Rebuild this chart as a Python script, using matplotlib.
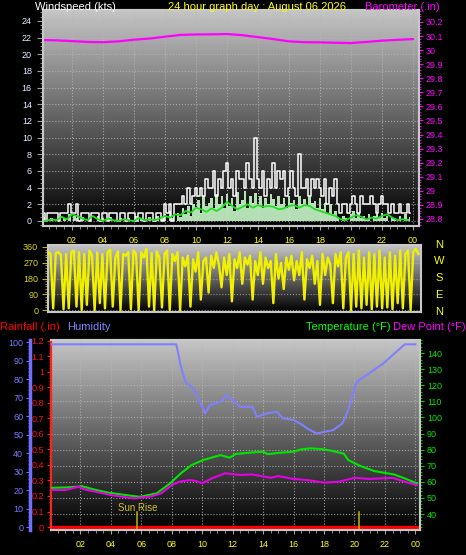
import matplotlib.pyplot as plt
from matplotlib.colors import LinearSegmentedColormap
from matplotlib.ticker import MultipleLocator, FixedLocator, NullFormatter
import numpy as np

plt.rcParams['font.family'] = ['Liberation Sans', 'DejaVu Sans']

# ---------------- data ----------------
# wind gust (kts), one value per 10 minutes
gust = [1, 1, 0, 1, 1, 1,   1, 0, 1, 1, 1, 2,   1, 1, 2, 0, 1, 1,   1, 0, 1, 1, 1, 0,
        1, 1, 0, 1, 1, 1,   0, 1, 1, 0, 1, 1,   1, 0, 1, 1, 0, 1,   1, 1, 0, 1, 1, 0,
        2, 1, 2, 0, 2, 2,   2, 3, 2, 4, 2, 3,   4, 3, 4, 3, 5, 4,   4, 6, 3, 5, 4, 6,
        7, 4, 5, 3, 6, 5,   5, 4, 7, 5, 4, 10,  5, 4, 6, 3, 5, 4,   7, 4, 6, 5, 6, 3,
        4, 6, 4, 3, 8, 4,   4, 5, 3, 5, 4, 5,   4, 3, 5, 2, 4, 3,   5, 2, 1, 2, 2, 1,
        2, 3, 2, 1, 3, 2,   2, 2, 3, 2, 1, 2,   3, 2, 2, 1, 2, 1,   1, 2, 1, 1, 2, 1]
# wind speed (kts), one value per 10 minutes
speed = [0, 0.5, 0, 0, 0.3, 0,   0, 0.5, 0, 0.4, 0, 0.8,   0, 0.6, 0.3, 0, 0.5, 0,
         0, 0.4, 0, 0, 0.6, 0,   0.3, 0, 0, 0.5, 0, 0,   0, 0.4, 0, 0, 0.3, 0,
         0, 0.6, 0, 0.3, 0, 0,   0.5, 0, 0, 0.6, 0, 0.4,   0.8, 0, 1.2, 0.4, 0, 1.0,
         0.5, 1.5, 0.8, 1.8, 0.6, 2.0,   1.5, 2.5, 1.0, 3.0, 1.8, 2.2,
         2.8, 1.5, 3.2, 2.0, 3.0, 1.6,   3.2, 1.8, 2.8, 1.2, 3.5, 2.0,
         2.5, 3.6, 1.5, 3.0, 2.2, 3.4,   2.0, 3.0, 1.5, 2.8, 2.0, 3.2,
         2.6, 1.8, 3.0, 2.0, 2.8, 1.6,   3.0, 2.2, 2.5, 1.4, 3.0, 2.0,
         2.6, 1.8, 3.0, 2.2, 2.4, 1.6,   2.8, 1.4, 2.2, 1.0, 2.0, 0.8,
         1.2, 0.4, 0, 0.6, 0.3, 0,   0.8, 1.2, 0.4, 1.0, 0.3, 0.6,
         0.2, 0.8, 0, 0.6, 1.0, 0.4,   1.0, 0.3, 0.6, 0, 0.4, 0.2,   0, 0.6, 0, 0.8, 0.2, 0.5]
# average wind (kts), one value per 20 minutes
wind_avg = [0, 0, 0.2, 0.1, 0.5, 0.2, 0.8, 0.6, 0.3, 0.1, 0.6, 0.2,
            0, 0.3, 0.1, 0, 0.2, 0.1, 0, 0.4, 0.1, 0.2, 0.1, 0.3,
            0.6, 0.4, 0.8, 0.7, 1.2, 1.0, 1.6, 1.4, 1.1, 1.5, 1.2, 1.6,
            2.3, 1.8, 1.4, 1.7, 2.0, 1.6, 1.9, 1.7, 1.8, 1.7, 1.4, 1.5,
            1.8, 1.9, 1.6, 1.9, 1.8, 1.4, 1.2, 1.0, 0.8, 0.6, 0.2, 0.1,
            0.4, 0.7, 0.5, 0.2, 0.4, 0.3, 0.6, 0.8, 0.4, 0.1, 0.2, 0.1]
# wind direction (deg), one value per 10 minutes
direction = [330, 320, 10, 325, 330, 315,   5, 320, 10, 330, 340, 20,
             330, 0, 320, 30, 340, 310,   0, 330, 40, 320, 10, 330,
             345, 20, 300, 335, 0, 320,   310, 330, 5, 340, 320, 0,
             330, 300, 350, 20, 325, 0,   335, 300, 15, 320, 340, 0,
             320, 280, 330, 0, 300, 250,   310, 20, 290, 220, 330, 60,
             280, 300, 100, 310, 240, 330,   260, 130, 300, 200, 320, 50,
             290, 240, 330, 150, 300, 260,   310, 60, 280, 200, 330, 150,
             300, 240, 280, 40, 320, 180,   270, 120, 300, 230, 310, 170,
             280, 200, 330, 60, 290, 240,   310, 150, 280, 30, 320, 200,
             300, 260, 40, 320, 250, 330,   10, 300, 330, 0, 320, 20,
             340, 10, 300, 30, 330, 5,   320, 20, 340, 10, 300, 15,
             330, 5, 310, 40, 340, 10,   320, 340, 0, 330, 350, 320]
# barometer (in), hourly
baro = [30.072, 30.069, 30.064, 30.058, 30.056, 30.062, 30.074, 30.082, 30.095,
        30.108, 30.111, 30.112, 30.114, 30.106, 30.092, 30.078, 30.062, 30.056,
        30.055, 30.052, 30.050, 30.058, 30.067, 30.073, 30.078]

temp_hours = [0, 1.0, 1.9, 2.1, 3.0, 3.9, 5.0, 5.9, 7.0, 7.9, 8.6, 9.3, 10.05, 10.6, 11.2,
              11.8, 12.2, 13.3, 14.0, 14.3, 15.0, 16.0, 16.5, 17.1, 17.8, 18.4, 19.3,
              19.6, 20.4, 21.3, 22.6, 23.2, 24.1]
temp = [56.3, 56.5, 57.0, 57.3, 55.0, 53.2, 51.8, 50.7, 52.8, 59.1, 65.3, 70.4, 73.5, 75.0,
        76.6, 75.0, 77.3, 78.3, 78.7, 77.2, 78.0, 78.7, 80.2, 80.8, 80.4, 79.5, 77.5,
        73.5, 69.8, 66.7, 64.6, 62.5, 59.1]
dew_hours = [0, 1.0, 1.9, 2.2, 4.0, 5.5, 6.6, 7.3, 8.0, 8.5, 9.2, 9.6, 10.0, 10.6, 11.5,
             12.5, 13.3, 14.5, 15.0, 16.0, 17.0, 18.0, 19.0, 20.0, 21.0, 22.5, 23.3, 24.1]
dew = [54.9, 54.9, 57.0, 55.5, 51.8, 49.7, 50.8, 52.8, 58.0, 60.1, 61.1, 60.5, 59.1, 62.0,
       65.3, 64.3, 64.6, 62.5, 63.6, 61.8, 61.0, 59.5, 60.1, 62.5, 61.8, 62.5, 60.1, 58.0]
hum_hours = [0, 8.3, 8.6, 8.9, 9.4, 9.8, 10.2, 10.5, 11.2, 11.6, 12.0, 12.5, 13.3, 13.6,
             14.2, 14.9, 15.3, 16.0, 16.6, 16.9, 17.5, 18.6, 19.2, 19.5, 19.8, 20.1,
             20.3, 20.8, 21.9, 23.0, 23.3, 24.0]
hum = [98.8, 98.8, 86.7, 78.5, 75.0, 68.6, 61.4, 66.0, 67.7, 71.4, 68.6, 65.0, 65.0, 59.6,
       61.4, 62.3, 58.8, 57.9, 55.1, 53.3, 50.6, 52.4, 56.0, 61.4, 68.6, 77.7,
       79.5, 82.2, 88.5, 96.6, 98.8, 98.8]
rain_hours = [0, 24.3]
rain = [0.0, 0.0]
sun_events = [5.75, 20.3]

hour_ticks = [2, 4, 6, 8, 10, 12, 14, 16, 18, 20, 22, 24]
hour_labels = ['02', '04', '06', '08', '10', '12', '14', '16', '18', '20', '22', '00']

t10 = np.arange(len(gust)) / 6.0
t20 = np.arange(len(wind_avg)) / 3.0
t_dir = np.arange(len(direction)) / 6.0
t_baro = np.arange(len(baro))

# ---------------- helpers ----------------
bg = LinearSegmentedColormap.from_list('bg', ['#000000', '#c6c6c6'])


def gradient(ax):
    g = np.linspace(0, 1, 256).reshape(-1, 1)
    ax.imshow(g, extent=[0, 1, 0, 1], transform=ax.transAxes, cmap=bg,
              aspect='auto', origin='lower', zorder=0, interpolation='bilinear')


def frame(ax):
    for s in ax.spines.values():
        s.set_color('#c8c8c8')
        s.set_linewidth(1.5)


fig = plt.figure(figsize=(4.66, 5.55), dpi=100, facecolor='black')

# ---------------- top: wind + barometer ----------------
ax1 = fig.add_axes([0.0923, 0.5928, 0.8069, 0.3892])
gradient(ax1)
frame(ax1)
ax1.fill_between(t10, speed, step='mid', color='#c4f2c4', alpha=0.92, lw=0, zorder=2)
ax1.plot(t10, gust, color='white', lw=1.1, drawstyle='steps-mid', zorder=3)
ax1.plot(t20, wind_avg, color='#1ee01e', lw=1.3, zorder=4)
ax1.set_xlim(0.13, 24.39)
ax1.set_ylim(-0.6, 25.3)
ax1.yaxis.set_major_locator(MultipleLocator(2))
ax1.yaxis.set_minor_locator(MultipleLocator(0.5))
ax1.xaxis.set_major_locator(FixedLocator(hour_ticks))
ax1.xaxis.set_minor_locator(MultipleLocator(0.5))
ax1.set_xticklabels(hour_labels)
ax1.tick_params(axis='y', colors='#a0a0a0', labelcolor='#e4ecff', labelsize=6.5, length=4, pad=4)
ax1.tick_params(axis='y', which='minor', colors='#a0a0a0', length=2.5)
ax1.tick_params(axis='x', colors='#a0a0a0', labelcolor='#ffff00', labelsize=6.5, length=3, pad=4)
ax1.tick_params(axis='x', which='minor', colors='#a0a0a0', length=2)
ax1.grid(True, which='major', color='#b8b8b8', ls=':', lw=0.8, alpha=0.8)

ax1b = ax1.twinx()
ax1b.plot(t_baro, baro, color='#ff00ff', lw=1.6)
ax1b.set_ylim(28.75, 30.285)
ax1b.yaxis.set_major_locator(MultipleLocator(0.1))
ax1b.yaxis.set_minor_locator(MultipleLocator(0.02))
ax1b.yaxis.set_major_formatter(lambda v, p: ('%.1f' % v).rstrip('0').rstrip('.'))
ax1b.tick_params(axis='y', colors='#ff00ff', labelcolor='#ff00ff', labelsize=6.5, length=3, pad=2)
ax1b.tick_params(axis='y', which='minor', colors='#ff00ff', length=1.5)
frame(ax1b)

fig.text(35 / 466, 1 - 7 / 555, 'Windspeed (kts)', color='white', fontsize=8, va='center', ha='left')
fig.text(257 / 466, 1 - 7 / 555, '24 hour graph day : August 06 2026', color='#ffff00',
         fontsize=8, va='center', ha='center')
fig.text(440 / 466, 1 - 7 / 555, 'Barometer (.in)', color='#ff00ff', fontsize=8, va='center', ha='right')

# ---------------- middle: wind direction ----------------
ax2 = fig.add_axes([0.1030, 0.4378, 0.8004, 0.1207])
gradient(ax2)
frame(ax2)
ax2.plot(t_dir, direction, color='#f0f000', lw=1.7, zorder=3)
ax2.set_xlim(0, 24)
ax2.set_ylim(-11, 371)
ax2.yaxis.set_major_locator(FixedLocator([0, 90, 180, 270, 360]))
ax2.yaxis.set_minor_locator(MultipleLocator(15))
ax2.xaxis.set_major_locator(FixedLocator(hour_ticks))
ax2.xaxis.set_major_formatter(NullFormatter())
ax2.tick_params(axis='y', colors='#c8b400', labelcolor='#d8d800', labelsize=6.5, length=4, pad=3)
ax2.tick_params(axis='y', which='minor', colors='#c8b400', length=2)
ax2.tick_params(axis='x', length=0)
ax2.grid(True, axis='y', color='#b8b8b8', ls=':', lw=0.8, alpha=0.7)
for lab, yy in zip(['N', 'W', 'S', 'E', 'N'], [245, 261, 278, 295, 312]):
    fig.text(439 / 466, 1 - yy / 555, lab, color='#ffff00', fontsize=8, ha='center', va='center')

# ---------------- bottom: rain, humidity, temperature, dew point ----------------
ax3 = fig.add_axes([0.1094, 0.0450, 0.7918, 0.3423])
gradient(ax3)
frame(ax3)
ax3.spines['left'].set_color('#ff2020')
ax3.plot(rain_hours, rain, color='#ff0000', lw=2.4, zorder=5)
for h in sun_events:
    ax3.plot([h, h], [-0.019, 0.1], color='#b4a400', lw=1.2, zorder=6)
ax3.text(sun_events[0], 0.125, 'Sun Rise', color='#d0c030', fontsize=7, ha='center', va='center')
ax3.set_xlim(0.07, 24.3)
ax3.set_ylim(-0.019, 1.203)
ax3.yaxis.set_major_locator(MultipleLocator(0.1))
ax3.yaxis.set_minor_locator(MultipleLocator(0.02))
ax3.yaxis.set_major_formatter(lambda v, p: ('%.1f' % v).rstrip('0').rstrip('.') if v > 0.01 else '0')
ax3.xaxis.set_major_locator(FixedLocator(hour_ticks))
ax3.xaxis.set_minor_locator(MultipleLocator(0.5))
ax3.set_xticklabels(hour_labels)
ax3.tick_params(axis='y', colors='#ff2020', labelcolor='#ff1010', labelsize=6.5, length=3, pad=2)
ax3.tick_params(axis='y', which='minor', colors='#ff2020', length=1.5)
ax3.tick_params(axis='x', colors='#a0a0a0', labelcolor='#ffff00', labelsize=6.5, length=3, pad=4)
ax3.tick_params(axis='x', which='minor', colors='#a0a0a0', length=2)
ax3.grid(True, axis='x', color='#b8b8b8', ls=':', lw=0.8, alpha=0.8)

ax3t = ax3.twinx()
ax3t.plot(temp_hours, temp, color='#00e600', lw=1.5, zorder=3)
ax3t.plot(dew_hours, dew, color='#e600e6', lw=1.5, zorder=3)
ax3t.set_ylim(30.06, 148.1)
ax3t.yaxis.set_major_locator(FixedLocator([40, 50, 60, 70, 80, 90, 100, 110, 120, 130, 140]))
ax3t.yaxis.set_minor_locator(MultipleLocator(2))
ax3t.tick_params(axis='y', colors='#00d000', labelcolor='#00e600', labelsize=6.5, length=3, pad=2)
ax3t.tick_params(axis='y', which='minor', colors='#00d000', length=1.5)
ax3t.grid(True, axis='y', color='#b8b8b8', ls=':', lw=0.8, alpha=0.8)
frame(ax3t)
ax3t.spines['left'].set_color('#ff2020')

ax3h = ax3.twinx()
ax3h.plot(hum_hours, hum, color='#8080ff', lw=1.5, zorder=3)
ax3h.set_ylim(-1.6, 101.1)
ax3h.yaxis.set_ticks_position('left')
ax3h.yaxis.set_label_position('left')
ax3h.spines['left'].set_position(('outward', 15))
ax3h.spines['left'].set_color('#7070ff')
ax3h.spines['left'].set_linewidth(2.5)
ax3h.spines['right'].set_visible(False)
ax3h.spines['top'].set_visible(False)
ax3h.spines['bottom'].set_visible(False)
ax3h.yaxis.set_major_locator(MultipleLocator(10))
ax3h.yaxis.set_minor_locator(MultipleLocator(2))
ax3h.tick_params(axis='y', colors='#7070ff', labelcolor='#7878ff', labelsize=6.5, length=3, pad=2)
ax3h.tick_params(axis='y', which='minor', colors='#7070ff', length=1.5)

fig.text(0 / 466, 1 - 327 / 555, 'Rainfall (.in)', color='#ff0000', fontsize=8, va='center', ha='left')
fig.text(67 / 466, 1 - 327 / 555, 'Humidity', color='#8080ff', fontsize=8, va='center', ha='left')
fig.text(391 / 466, 1 - 327 / 555, 'Temperature (\u00b0F)', color='#00ff00', fontsize=8,
         va='center', ha='right')
fig.text(393 / 466, 1 - 327 / 555, 'Dew Point (\u00b0F)', color='#ff00ff', fontsize=8,
         va='center', ha='left')

plt.savefig('out.png', dpi=100, facecolor='black')
